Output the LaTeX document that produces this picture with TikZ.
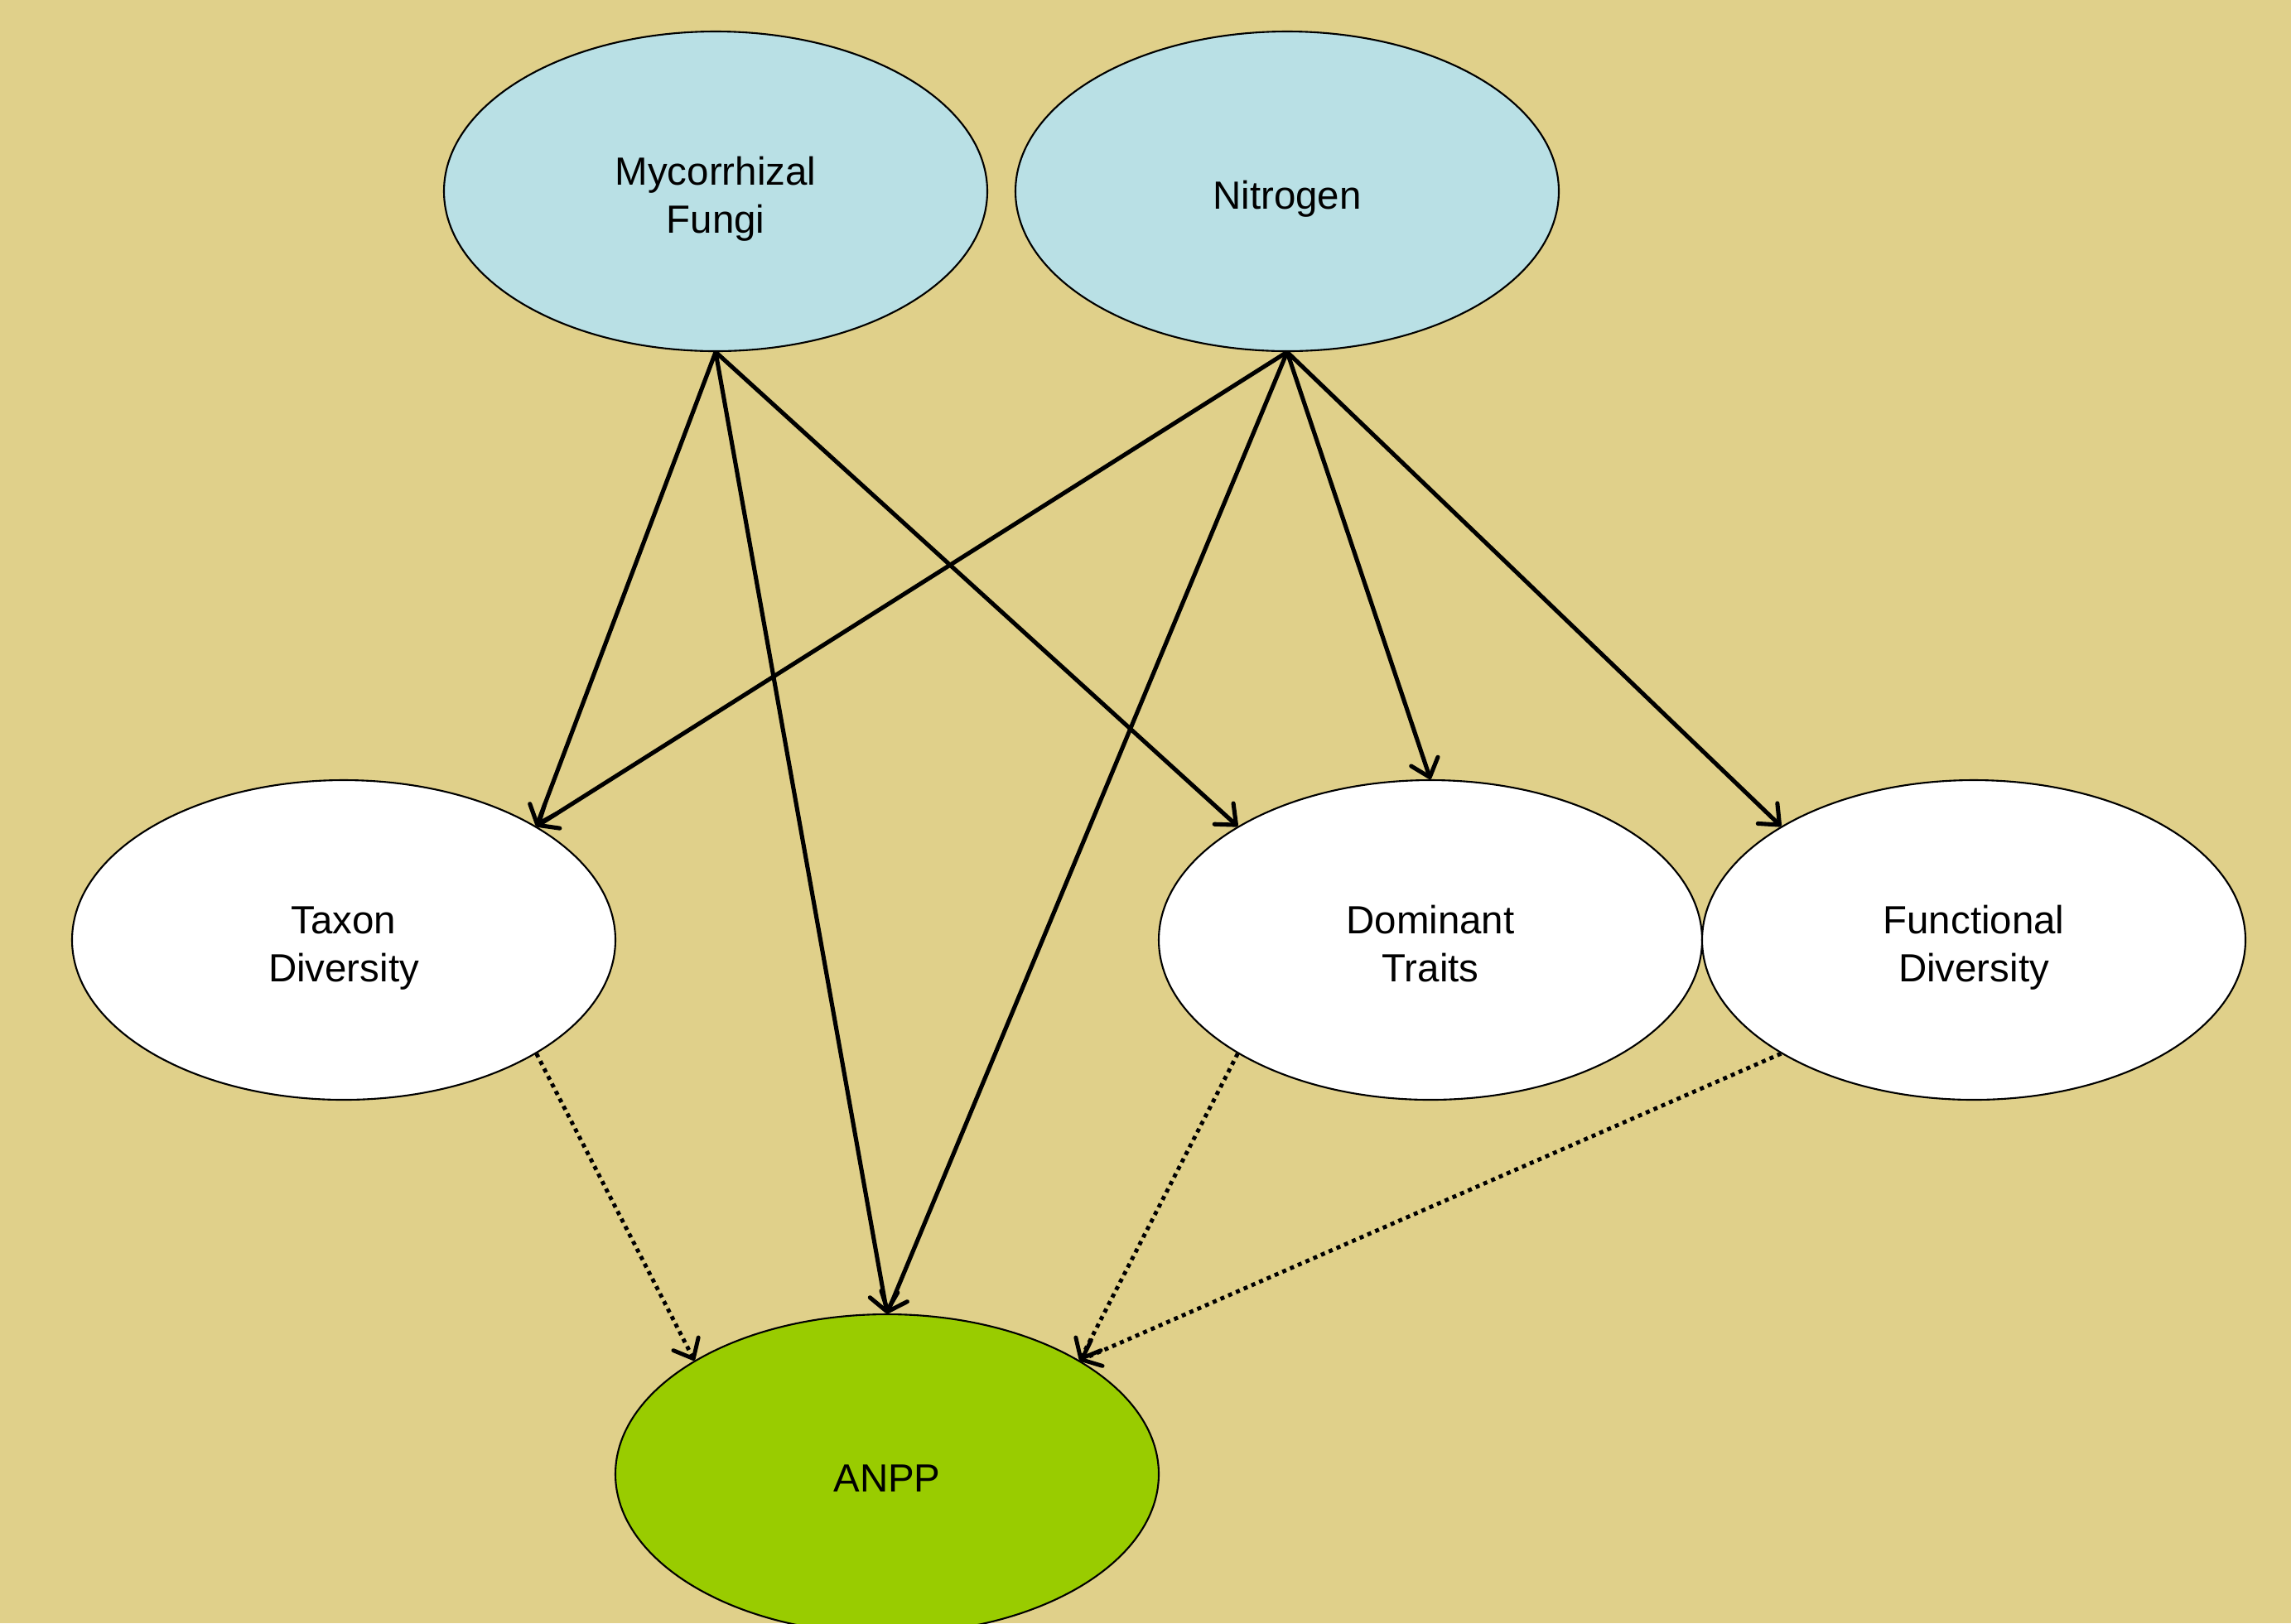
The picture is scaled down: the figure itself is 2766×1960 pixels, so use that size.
\documentclass[tikz,border=0pt]{standalone}
\usepackage{fontspec}
\setmainfont{Liberation Sans}
\usetikzlibrary{arrows.meta,shapes.geometric}
\definecolor{sandbg}{RGB}{224,208,138}
\definecolor{driverblue}{RGB}{185,224,229}
\definecolor{anppgreen}{RGB}{153,204,0}
\tikzset{
        varnode/.style = {ellipse, align=center, inner sep=0pt, draw=black,
            line width=0.6pt, minimum width=65.6mm, minimum height=38.6mm,
            text height=15pt, text depth=3pt,
            font=\fontsize{13.5}{16.5}\selectfont},
        twoline/.style = {text height=31.5pt},
        var_in/.style = {varnode, fill=driverblue},
        var_mid/.style = {varnode, twoline, fill=white},
        var_out/.style = {varnode, fill=anppgreen},
        path_d/.style = {line width=1.45pt},
        path_i/.style = {line width=1.4pt, dash pattern=on 1.4pt off 1.5pt}
    }

\begin{document}
\begin{tikzpicture}[x=0.1mm,y=-0.1mm,->,>={Straight Barb[length=2mm,width=3.4mm,round]}]
            \fill[sandbg] (0,0) rectangle (2766,1960);
            \useasboundingbox (0,0) rectangle (2766,1960);
            % drivers
            \node [var_in, twoline] (myc) at (864,231) {Mycorrhizal\\Fungi};
            \node [var_in] (nit) at (1554,231) {Nitrogen};
            % community
            \node [var_mid] (taxon) at (415,1135) {Taxon\\Diversity};
            \node [var_mid] (dom) at (1727,1135) {Dominant\\Traits};
            \node [var_mid] (func) at (2383,1135) {Functional\\Diversity};
            % response
            \node [var_out] (anpp) at (1071,1780) {ANPP};

            \draw [path_d] (myc.south) -- (taxon.north east);
            \draw [path_d] (myc.south) -- (anpp.north);
            \draw [path_d] (myc.south) -- (dom.north west);
            \draw [path_d] (nit.south) -- (taxon.north east);
            \draw [path_d] (nit.south) -- (anpp.north);
            \draw [path_d] (nit.south) -- (dom.north);
            \draw [path_d] (nit.south) -- (func.north west);
            \draw [path_i] (taxon.south east) -- (anpp.north west);
            \draw [path_i] (dom.south west) -- (anpp.north east);
            \draw [path_i] (func.south west) -- (anpp.north east);
        \end{tikzpicture}
\end{document}
